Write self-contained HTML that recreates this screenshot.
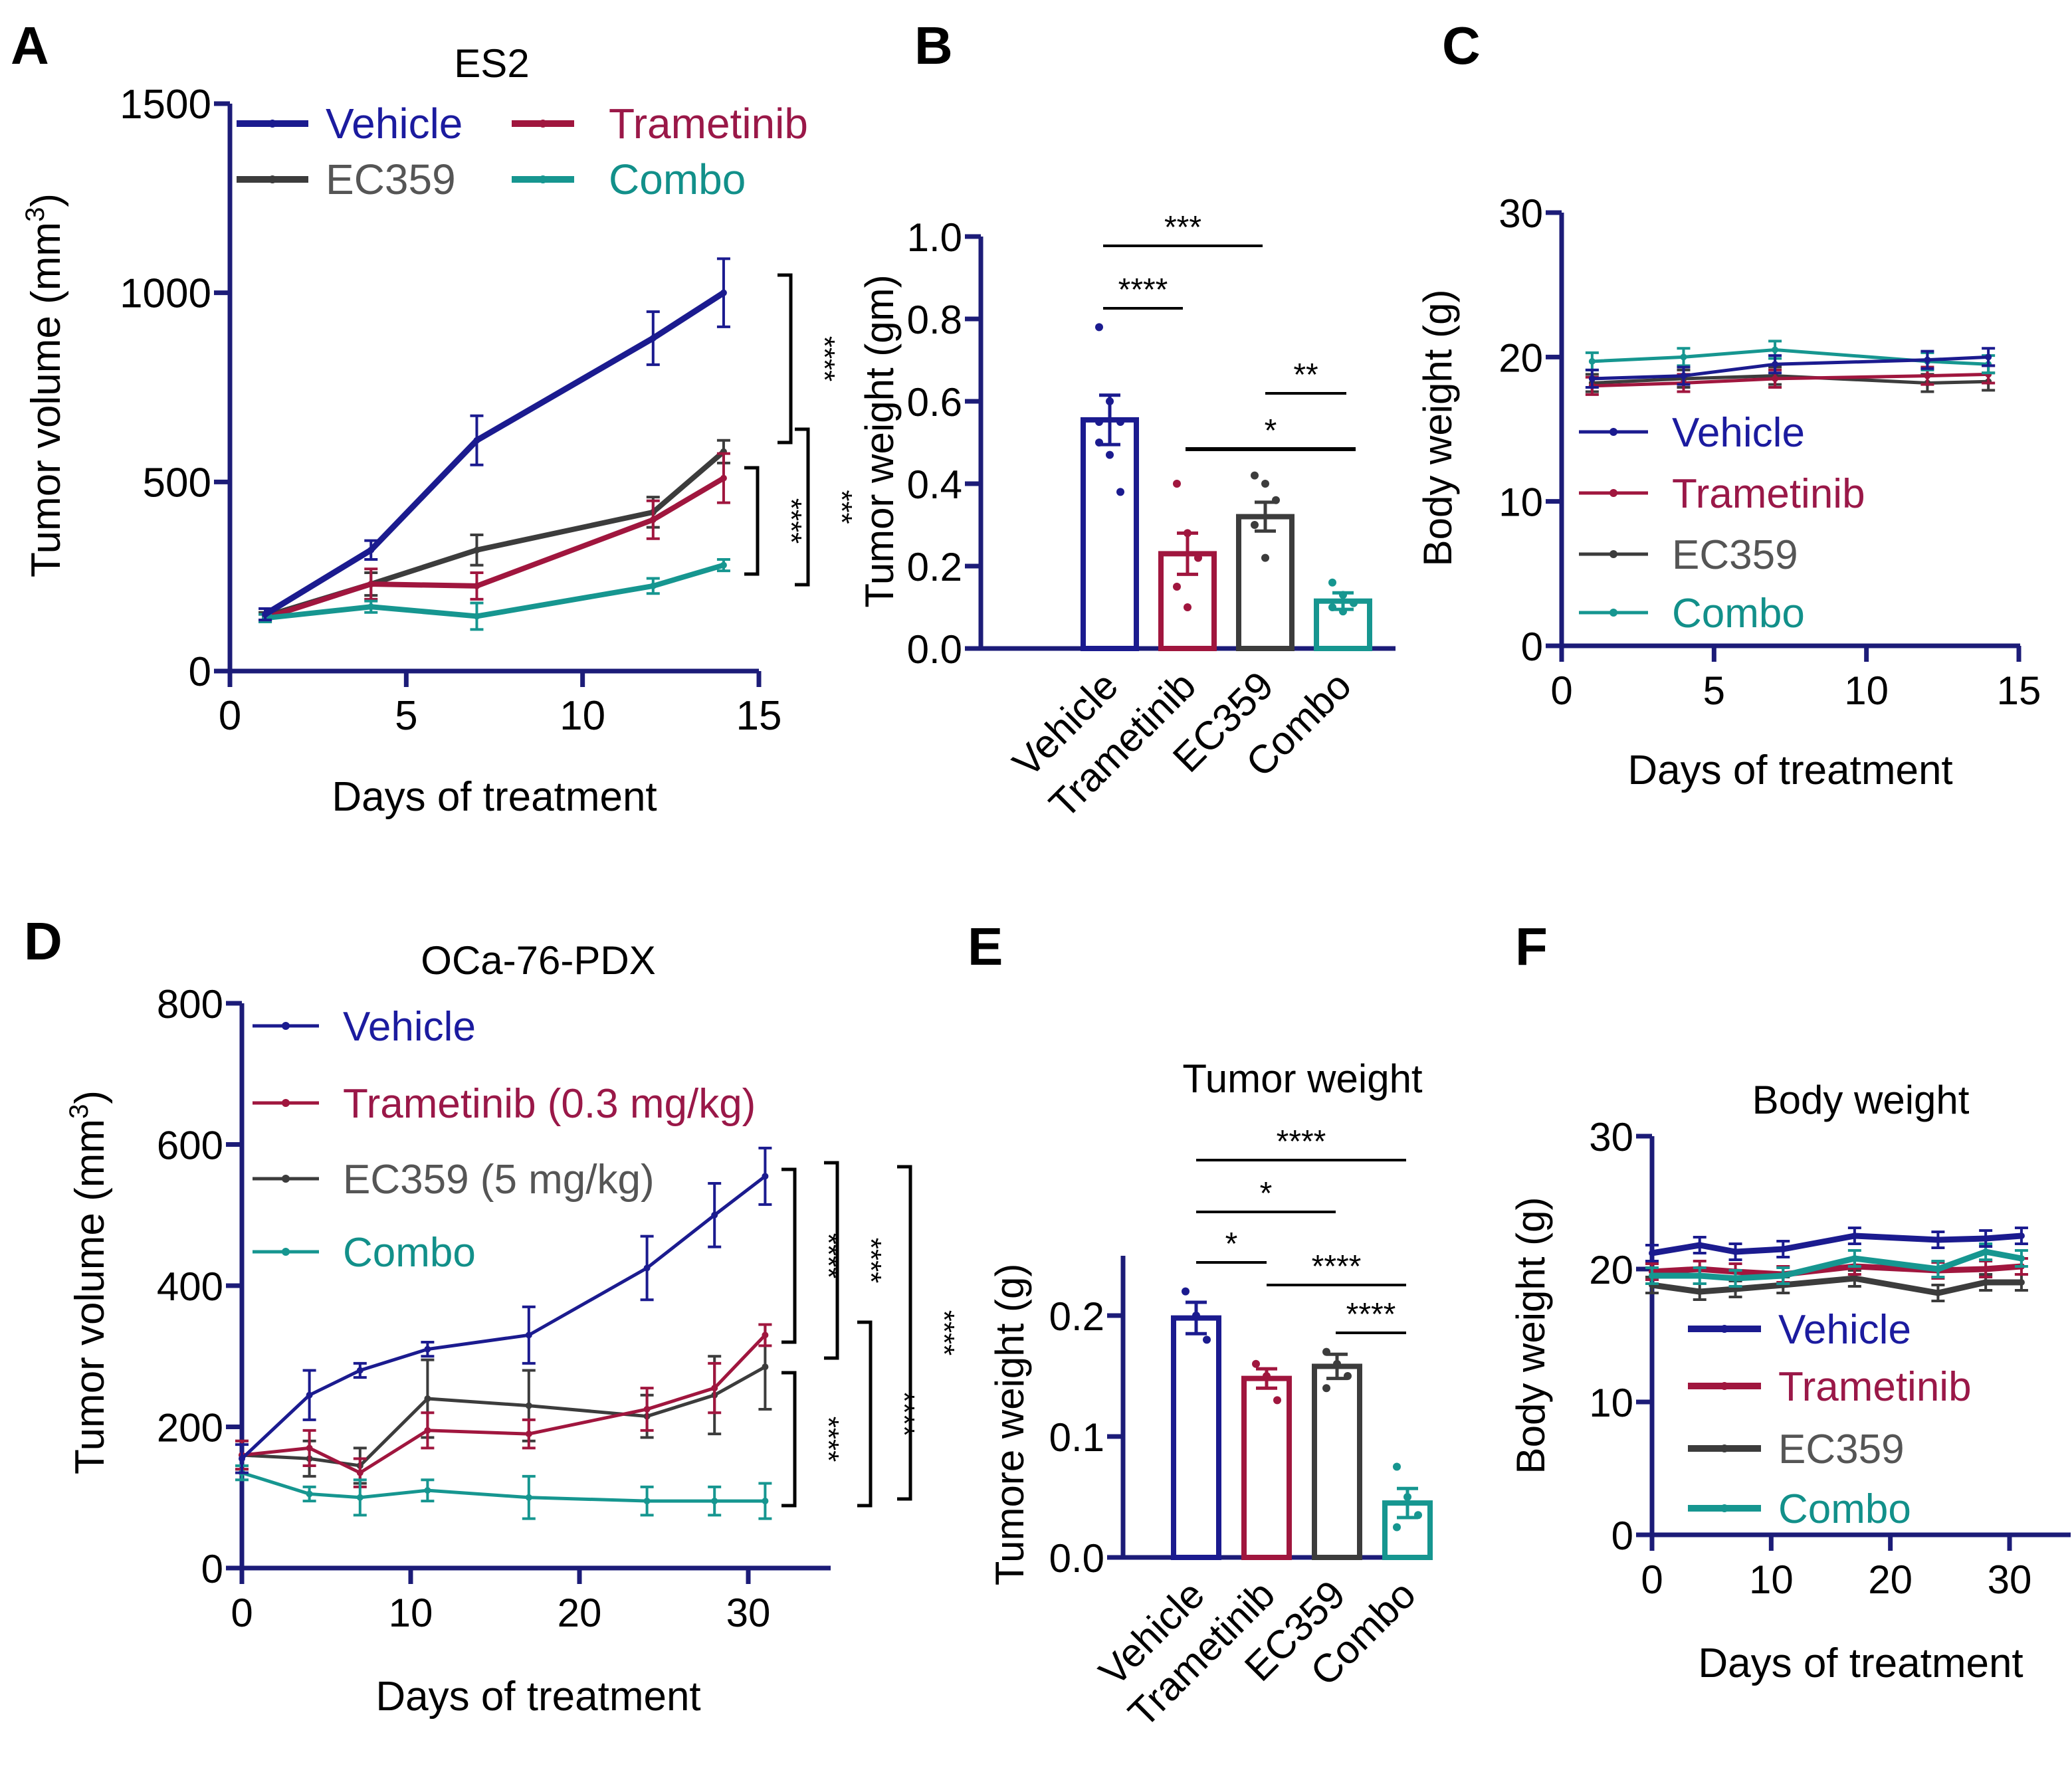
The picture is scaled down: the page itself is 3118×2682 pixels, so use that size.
<!DOCTYPE html>
<html><head><meta charset="utf-8"><style>
html,body{margin:0;padding:0;background:#fff}
svg{display:block}
text{font-family:"Liberation Sans",Arial,sans-serif}
</style></head><body>
<svg id="fig" xmlns="http://www.w3.org/2000/svg" width="3118" height="2682" viewBox="0 0 1559 1341">
<rect width="1559" height="1341" fill="#fff"/>
<g font-weight="bold" font-size="40" fill="#000">
<text x="8" y="48">A</text>
<text x="688" y="48">B</text>
<text x="1085" y="48">C</text>
<text x="18" y="722">D</text>
<text x="728" y="726">E</text>
<text x="1140" y="726">F</text>
</g>
</svg>
<script>
const NS='http://www.w3.org/2000/svg';
const svg=document.getElementById('fig');
const COL={Vehicle:'#1b1b8f',Trametinib:'#a0163e',EC359:'#3c3c3c',Combo:'#169690'};
const TXT={Vehicle:'#1b1b9f',Trametinib:'#9a1848',EC359:'#555',Combo:'#12908a'};
const AX='#1c1c78';

// Panel A data
const aDays=[1,4,7,12,14];
const aVehicle=[150,320,610,880,1000];
const aVehicleErr=[15,25,65,70,90];
const aEC359=[145,230,320,420,580];
const aEC359Err=[10,30,40,40,30];
const aTrametinib=[140,230,225,400,510];
const aTrametinibErr=[10,40,35,50,65];
const aCombo=[140,170,145,225,280];
const aComboErr=[10,15,35,20,15];
const aYTicks=[0,500,1000,1500];
const aXTicks=[0,5,10,15];

// Panel B data
const bCats=['Vehicle','Trametinib','EC359','Combo'];
const bMeans=[0.555,0.23,0.32,0.115];
const bErr=[0.06,0.05,0.035,0.02];
const bDots=[[0.78,0.6,0.55,0.5,0.47,0.38,0.55],[0.4,0.28,0.22,0.15,0.1],[0.42,0.4,0.36,0.3,0.22],[0.16,0.13,0.11,0.1,0.09]];
const bYTicks=[0,0.2,0.4,0.6,0.8,1.0];

// Panel C data
const cDays=[1,4,7,12,14];
const cVehicle=[18.5,18.7,19.5,19.8,20];
const cTrametinib=[18,18.2,18.5,18.7,18.8];
const cEC359=[18.2,18.5,18.7,18.2,18.3];
const cCombo=[19.7,20,20.5,19.7,19.5];
const cYTicks=[0,10,20,30];
const cXTicks=[0,5,10,15];

// Panel D data
const dDays=[0,4,7,11,17,24,28,31];
const dVehicle=[155,245,280,310,330,425,500,555];
const dVehicleErr=[20,35,10,10,40,45,45,40];
const dTrametinib=[160,170,135,195,190,225,255,330];
const dTrametinibErr=[20,25,20,25,20,30,35,15];
const dEC359=[160,155,145,240,230,215,245,285];
const dEC359Err=[20,25,25,55,50,30,55,60];
const dCombo=[135,105,100,110,100,95,95,95];
const dComboErr=[10,10,25,15,30,20,20,25];
const dYTicks=[0,200,400,600,800];
const dXTicks=[0,10,20,30];

// Panel E data
const eCats=['Vehicle','Trametinib','EC359','Combo'];
const eMeans=[0.198,0.148,0.158,0.045];
const eErr=[0.013,0.008,0.01,0.012];
const eDots=[[0.22,0.2,0.18],[0.16,0.15,0.13],[0.17,0.16,0.15,0.14],[0.075,0.05,0.035,0.025]];
const eYTicks=[0,0.1,0.2];

// Panel F data
const fDays=[0,4,7,11,17,24,28,31];
const fVehicle=[21.2,21.8,21.3,21.5,22.5,22.2,22.3,22.5];
const fTrametinib=[19.8,20,19.8,19.6,20.2,19.9,20,20.2];
const fEC359=[18.8,18.3,18.5,18.8,19.3,18.2,19,19];
const fCombo=[19.5,19.5,19.3,19.5,20.8,20,21.3,20.8];
const fYTicks=[0,10,20,30];
const fXTicks=[0,10,20,30];

function el(tag,attrs,parent,txt){const e=document.createElementNS(NS,tag);for(const k in attrs)e.setAttribute(k,attrs[k]);if(txt!==undefined)e.textContent=txt;(parent||svg).appendChild(e);return e;}
function lin(d0,d1,r0,r1){return v=>r0+(v-d0)*(r1-r0)/(d1-d0);}

function axes(g,X,Y,xTicks,yTicks,x0,yTop,xEnd,fs,yFmt,tickLen){
  const ax=el('line',{x1:x0,y1:yTop,x2:x0,y2:Y(0),stroke:AX,'stroke-width':3.5},g);
  
  const bx=el('line',{x1:x0,y1:Y(0),x2:xEnd,y2:Y(0),stroke:AX,'stroke-width':3.5},g);
  
  yTicks.forEach(t=>{
    const l=el('line',{x1:x0-12,y1:Y(t),x2:x0,y2:Y(t),stroke:AX,'stroke-width':3.5},g);
    
    const tx=el('text',{x:x0-14,y:Y(t)+11,'text-anchor':'end','font-size':fs},g,yFmt(t));
    
  });
  if(xTicks) xTicks.forEach(t=>{
    const l=el('line',{x1:X(t),y1:Y(0),x2:X(t),y2:Y(0)+tickLen,stroke:AX,'stroke-width':3.5},g);
    
    const tx=el('text',{x:X(t),y:Y(0)+tickLen+32,'text-anchor':'middle','font-size':fs},g,String(t));
    
  });
}
function txt(g,x,y,s,fs,name,opts){const t=el('text',Object.assign({x:x,y:y,'font-size':fs,'text-anchor':'middle'},opts||{}),g,s);return t;}
function series(g,X,Y,days,vals,errs,color,name,sw){
  const pts=days.map((d,i)=>X(d)+','+Y(vals[i])).join(' ');
  const p=el('polyline',{points:pts,fill:'none',stroke:color,'stroke-width':sw,'stroke-linejoin':'round'},g);
  
  days.forEach((d,i)=>{
    const e=errs?errs[i]:0.6;
    const eb=el('path',{d:`M${X(d)} ${Y(vals[i]-e)}V${Y(vals[i]+e)}M${X(d)-5} ${Y(vals[i]-e)}h10M${X(d)-5} ${Y(vals[i]+e)}h10`,stroke:color,'stroke-width':2,fill:'none'},g);
    
    const c=el('circle',{cx:X(d),cy:Y(vals[i]),r:2.5,fill:color},g);
    
  });
}
function legendEntry(g,x1,x2,y,tx,name,fs,sw,label){
  const l=el('line',{x1:x1,y1:y,x2:x2,y2:y,stroke:COL[name],'stroke-width':sw},g);
  
  el('circle',{cx:(x1+x2)/2,cy:y,r:3,fill:COL[name]},g);
  const t=el('text',{x:tx,y:y+11,'font-size':fs,fill:TXT[name]},g,label||name);
  
}
function bracket(g,x,y1,y2,stars,name){
  const b=el('path',{d:`M${x-10} ${y1}H${x}V${y2}H${x-10}`,stroke:'#000','stroke-width':2.5,fill:'none'},g);
  
  const t=el('text',{x:0,y:0,'font-size':22,'text-anchor':'middle',transform:`translate(${x+18},${(y1+y2)/2}) rotate(90)`},g,stars);
  
}
function sigLine(g,x1,x2,y,stars,name,sw){
  const l=el('line',{x1:x1,y1:y,x2:x2,y2:y,stroke:'#000','stroke-width':sw||2},g);
  
  txt(g,(x1+x2)/2,y-6,stars,24,name+'-stars');
}
function bars(g,X,Y,cats,means,errs,dots,w){
  cats.forEach((c,i)=>{
    const x=X(i),col=COL[c];
    const r=el('rect',{x:x-w/2,y:Y(means[i]),width:w,height:Y(0)-Y(means[i]),fill:'#fff',stroke:col,'stroke-width':4},g);
    
    const e=el('path',{d:`M${x} ${Y(means[i])}V${Y(means[i]+errs[i])}M${x-8} ${Y(means[i]+errs[i])}h16M${x} ${Y(means[i])}V${Y(means[i]-errs[i])}M${x-8} ${Y(means[i]-errs[i])}h16`,stroke:col,'stroke-width':2.5},g);
    
    dots[i].forEach((v,j)=>{
      const d=el('circle',{cx:x+((j%3)-1)*8,cy:Y(v),r:3,fill:col},g);
      
    });
    const t=el('text',{x:0,y:0,'font-size':30,'text-anchor':'end',transform:`translate(${x+8},${Y(0)+30}) rotate(-45)`},g,c);
    
  });
}

// ---- Panel A
(function(){
  const g=el('g',{});
  const X=lin(0,15,173,571),Y=lin(0,1500,505,78);
  axes(g,X,Y,aXTicks,aYTicks,173,78,571,31,String,12);
  txt(g,370,58,'ES2',30,'chart-title');
  txt(g,372,610,'Days of treatment',31,'x-axis-title');
  const yt=el('text',{x:0,y:0,'font-size':31,'text-anchor':'middle',transform:'translate(45,290) rotate(-90)'},g);
  
  yt.innerHTML='Tumor volume (mm<tspan dy="-12" font-size="20">3</tspan><tspan dy="12">)</tspan>';
  series(g,X,Y,aDays,aEC359,aEC359Err,COL.EC359,'ec359',4);
  series(g,X,Y,aDays,aTrametinib,aTrametinibErr,COL.Trametinib,'trametinib',4);
  series(g,X,Y,aDays,aCombo,aComboErr,COL.Combo,'combo',4);
  series(g,X,Y,aDays,aVehicle,aVehicleErr,COL.Vehicle,'vehicle',4.5);
  legendEntry(g,178,232,93,245,'Vehicle',32,5);
  legendEntry(g,385,432,93,458,'Trametinib',32,5);
  legendEntry(g,178,232,135,245,'EC359',32,5);
  legendEntry(g,385,432,135,458,'Combo',32,5);
  bracket(g,595,207,333,'****','bracket-vehicle-ec359');
  bracket(g,570,352,432,'****','bracket-ec359-combo');
  bracket(g,608,323,440,'***','bracket-trametinib-combo');
})();

// ---- Panel B
(function(){
  const g=el('g',{});
  const Y=lin(0,1,488,178);const X=i=>835+i*58.5;
  axes(g,null,Y,null,bYTicks,738,178,1050,30,v=>v.toFixed(1),0);
  bars(g,X,Y,bCats,bMeans,bErr,bDots,40);
  txt(g,0,0,'Tumor weight (gm)',30,'y-axis-title',{transform:'translate(672,332) rotate(-90)'});
  sigLine(g,830,950,185,'***','sig-vehicle-ec359');
  sigLine(g,830,890,232,'****','sig-vehicle-trametinib');
  sigLine(g,952,1013,296,'**','sig-ec359-combo');
  sigLine(g,892,1020,338,'*','sig-trametinib-combo',3);
})();

// ---- Panel C
(function(){
  const g=el('g',{});
  const X=lin(0,15,1175,1519),Y=lin(0,30,486,160);
  axes(g,X,Y,cXTicks,cYTicks,1175,160,1520,30,String,12);
  txt(g,1347,590,'Days of treatment',31,'x-axis-title');
  txt(g,0,0,'Body weight (g)',30,'y-axis-title',{transform:'translate(1092,322) rotate(-90)'});
  series(g,X,Y,cDays,cEC359,null,COL.EC359,'ec359',2.5);
  series(g,X,Y,cDays,cTrametinib,null,COL.Trametinib,'trametinib',2.5);
  series(g,X,Y,cDays,cCombo,null,COL.Combo,'combo',2.5);
  series(g,X,Y,cDays,cVehicle,null,COL.Vehicle,'vehicle',2.5);
  legendEntry(g,1188,1240,325,1258,'Vehicle',31,2.5);
  legendEntry(g,1188,1240,371,1258,'Trametinib',31,2.5);
  legendEntry(g,1188,1240,417,1258,'EC359',31,2.5);
  legendEntry(g,1188,1240,461,1258,'Combo',31,2.5);
})();

// ---- Panel D
(function(){
  const g=el('g',{});
  const X=lin(0,30,182,563),Y=lin(0,800,1180,755);
  axes(g,X,Y,dXTicks,dYTicks,182,755,625,30,String,12);
  txt(g,405,733,'OCa-76-PDX',30,'chart-title');
  txt(g,405,1287,'Days of treatment',31,'x-axis-title');
  const yt=el('text',{x:0,y:0,'font-size':31,'text-anchor':'middle',transform:'translate(78,965) rotate(-90)'},g);
  
  yt.innerHTML='Tumor volume (mm<tspan dy="-12" font-size="20">3</tspan><tspan dy="12">)</tspan>';
  series(g,X,Y,dDays,dEC359,dEC359Err,COL.EC359,'ec359',2.5);
  series(g,X,Y,dDays,dTrametinib,dTrametinibErr,COL.Trametinib,'trametinib',2.5);
  series(g,X,Y,dDays,dCombo,dComboErr,COL.Combo,'combo',2.5);
  series(g,X,Y,dDays,dVehicle,dVehicleErr,COL.Vehicle,'vehicle',2.5);
  legendEntry(g,190,240,772,258,'Vehicle',31,2.5);
  legendEntry(g,190,240,830,258,'Trametinib',31,2.5,'Trametinib (0.3 mg/kg)');
  legendEntry(g,190,240,887,258,'EC359',31,2.5,'EC359 (5 mg/kg)');
  legendEntry(g,190,240,942,258,'Combo',31,2.5);
  bracket(g,598,880,1010,'****','bracket-vehicle-trametinib');
  bracket(g,630,875,1022,'****','bracket-vehicle-ec359');
  bracket(g,598,1033,1133,'****','bracket-trametinib-combo');
  bracket(g,655,995,1133,'****','bracket-ec359-combo');
  bracket(g,685,878,1128,'****','bracket-vehicle-combo');
})();

// ---- Panel E
(function(){
  const g=el('g',{});
  const Y=lin(0,0.2,1172,990);const X=i=>900+i*53;
  axes(g,null,Y,null,eYTicks,845,945,1078,30,v=>v.toFixed(1),0);
  bars(g,X,Y,eCats,eMeans,eErr,eDots,34);
  txt(g,980,822,'Tumor weight',30,'chart-title');
  txt(g,0,0,'Tumore weight (g)',30,'y-axis-title',{transform:'translate(770,1072) rotate(-90)'});
  sigLine(g,900,1058,873,'****','sig-vehicle-combo');
  sigLine(g,900,1005,912,'*','sig-vehicle-ec359');
  sigLine(g,900,953,950,'*','sig-vehicle-trametinib');
  sigLine(g,953,1058,967,'****','sig-trametinib-combo');
  sigLine(g,1005,1058,1003,'****','sig-ec359-combo');
})();

// ---- Panel F
(function(){
  const g=el('g',{});
  const X=lin(0,30,1243,1512),Y=lin(0,30,1155,855);
  axes(g,X,Y,fXTicks,fYTicks,1243,855,1558,30,String,12);
  txt(g,1400,1262,'Days of treatment',31,'x-axis-title');
  txt(g,1400,838,'Body weight',30,'chart-title');
  txt(g,0,0,'Body weight (g)',30,'y-axis-title',{transform:'translate(1162,1005) rotate(-90)'});
  series(g,X,Y,fDays,fEC359,null,COL.EC359,'ec359',4.5);
  series(g,X,Y,fDays,fTrametinib,null,COL.Trametinib,'trametinib',4.5);
  series(g,X,Y,fDays,fCombo,null,COL.Combo,'combo',4.5);
  series(g,X,Y,fDays,fVehicle,null,COL.Vehicle,'vehicle',4.5);
  legendEntry(g,1270,1325,1000,1338,'Vehicle',31,5);
  legendEntry(g,1270,1325,1043,1338,'Trametinib',31,5);
  legendEntry(g,1270,1325,1090,1338,'EC359',31,5);
  legendEntry(g,1270,1325,1135,1338,'Combo',31,5);
})();
</script>
</body></html>
